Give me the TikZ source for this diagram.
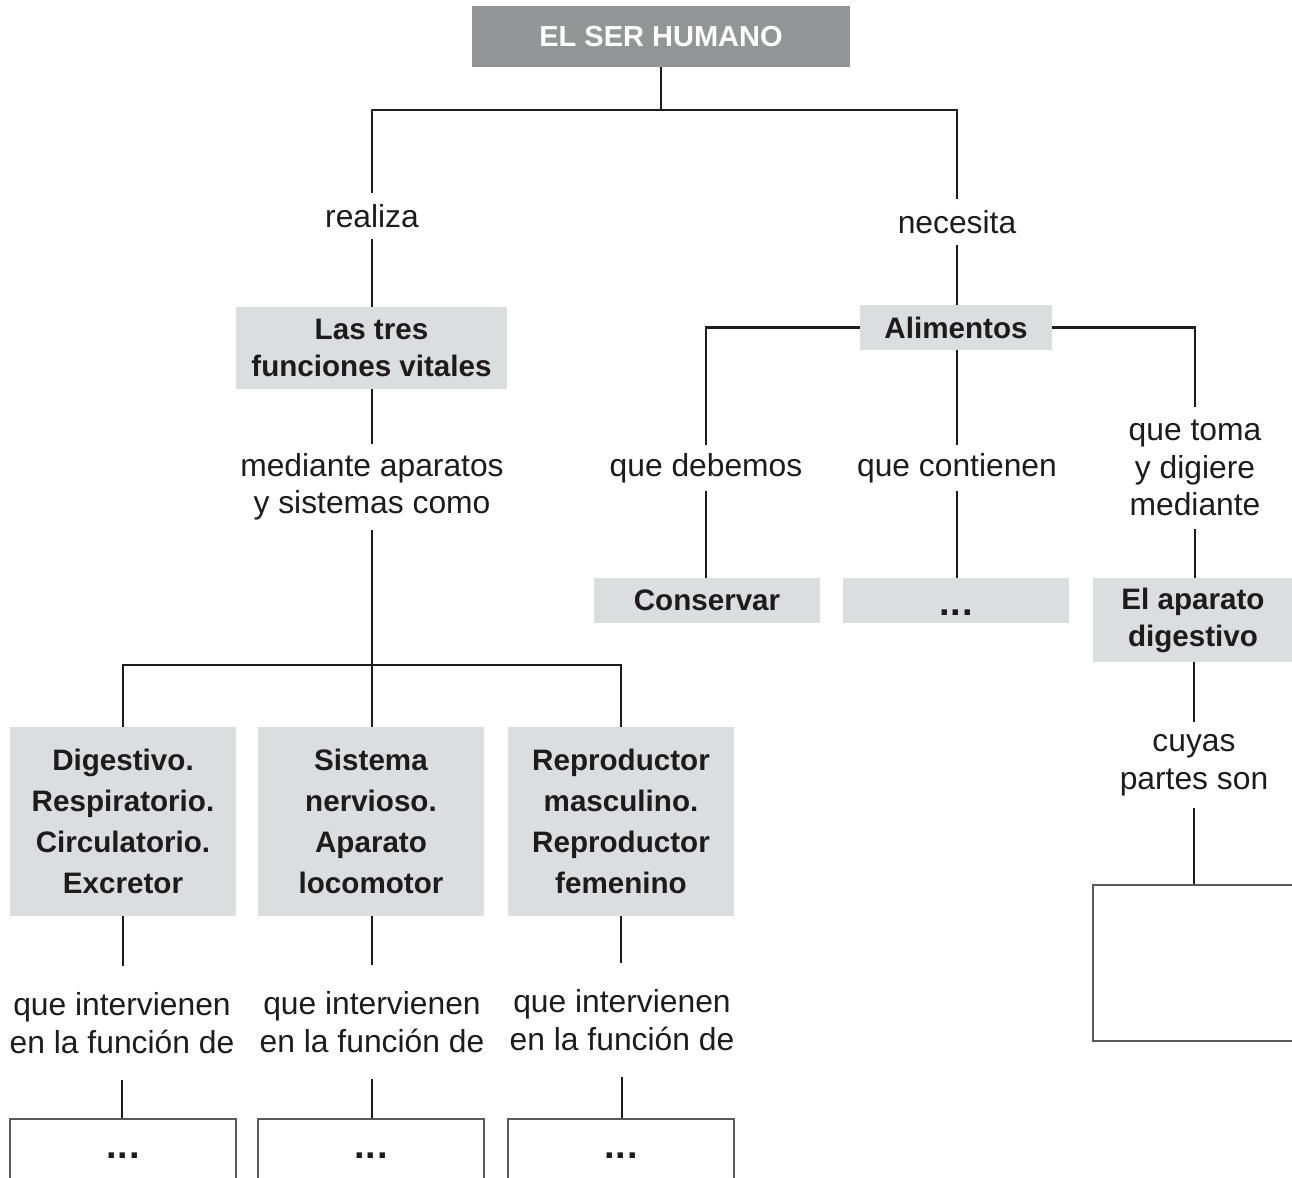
\documentclass[tikz,border=0pt]{standalone}
\usepackage{fontspec}
\setmainfont{Liberation Sans}
\definecolor{dark}{HTML}{1E1B1C}
\definecolor{topgray}{HTML}{939598}
\definecolor{lightgray}{HTML}{DCDDDE}
\definecolor{boxline}{HTML}{58595B}
\newcommand{\tripledots}{{\fontsize{38}{38}\selectfont .\kern1pt.\kern1pt.}}
\tikzset{
  conn/.style={draw=dark, line width=2.5pt},
  topbox/.style={fill=topgray, text=white, font=\bfseries\fontsize{29}{37}\selectfont,
    minimum width=378pt, minimum height=61pt, inner sep=0pt},
  graybox/.style={fill=lightgray, text=dark, font=\bfseries\fontsize{29.6}{37}\selectfont,
    align=center, inner sep=0pt},
  tallbox/.style={graybox, minimum width=226pt, minimum height=189pt,
    font=\bfseries\fontsize{29.6}{41}\selectfont},
  lbl/.style={text=dark, font=\fontsize{31.8}{37.5}\selectfont, align=center, inner sep=0pt},
  openbox/.style={draw=boxline, line width=1.5pt, fill=white, inner sep=0pt, anchor=north,
    font=\bfseries\fontsize{29.6}{37}\selectfont, text=dark},
  dotsbox/.style={openbox, minimum width=226pt, text height=40pt, text depth=120pt},
}
\begin{document}
\begin{tikzpicture}[x=1pt,y=-1pt]
\useasboundingbox (0,0) rectangle (1292,1177);
\clip (0,0) rectangle (1292,1177);

% top
\node[topbox] (top) at (661,36.5) {EL SER HUMANO};
\coordinate (j1) at (661,110);
\node[lbl, minimum height=46pt] (realiza) at (372,216) {realiza};
\node[lbl, minimum height=46pt] (necesita) at (957,222) {necesita};

% left branch
\node[graybox, minimum width=271pt, minimum height=82pt] (f3) at (371.5,348) {Las tres\\funciones vitales};
\node[lbl, minimum height=86pt] (med) at (372,487) {mediante aparatos\\y sistemas como};
\coordinate (j2) at (372,665);

\node[tallbox] (bx1) at (123,821.5) {Digestivo.\\Respiratorio.\\Circulatorio.\\Excretor};
\node[tallbox] (bx2) at (371,821.5) {Sistema\\nervioso.\\Aparato\\locomotor};
\node[tallbox] (bx3) at (621,821.5) {Reproductor\\masculino.\\Reproductor\\femenino};

\node[lbl, minimum height=114pt] (qi1) at (122,1023) {que intervienen\\en la función de};
\node[lbl, minimum height=114pt] (qi2) at (372,1022) {que intervienen\\en la función de};
\node[lbl, minimum height=114pt] (qi3) at (622,1020) {que intervienen\\en la función de};

\node[dotsbox] (ob1) at (123,1118) {\tripledots};
\node[dotsbox] (ob2) at (371,1118) {\tripledots};
\node[dotsbox] (ob3) at (621,1118) {\tripledots};

% right branch
\node[graybox, minimum width=192pt, minimum height=45pt] (alim) at (956,327.5) {Alimentos};
\node[lbl, minimum height=46pt] (qd) at (706,468) {que debemos};
\node[lbl, minimum height=46pt] (qc) at (957,468) {que contienen};
\node[lbl, minimum height=122pt] (qt) at (1195,468) {que toma\\y digiere\\mediante};

\node[graybox, minimum width=226pt, minimum height=45pt] (cons) at (707,600.5) {Conservar};
\node[graybox, minimum width=226pt, minimum height=45pt, text height=30pt, text depth=0pt] (dots1) at (956,600.5) {\tripledots};
\node[graybox, minimum width=200pt, minimum height=84pt] (apdig) at (1193,620) {El aparato\\digestivo};
\node[lbl, minimum height=86pt] (cp) at (1194,765) {cuyas\\partes son};
\node[openbox, minimum width=260pt, minimum height=156pt] (wb) at (1223,884) {};

% connectors
\draw[conn] (top.south) -- (j1);
\draw[conn] (realiza.north) |- (j1);
\draw[conn] (necesita.north) |- (j1);
\draw[conn] (realiza.south) -- (realiza.south |- f3.north);
\draw[conn] (realiza.south |- f3.south) -- (med.north);
\draw[conn] (med.south) -- (j2);
\draw[conn] (bx1.north) |- (j2) -| (bx3.north);
\draw[conn] (j2) -- (j2 |- bx2.north);
\draw[conn] (bx1.south) -- (bx1.south |- qi1.north);
\draw[conn] (qi2.north |- bx2.south) -- (qi2.north);
\draw[conn] (bx3.south) -- (bx3.south |- qi3.north);
\draw[conn] (qi1.south) -- (qi1.south |- ob1.north);
\draw[conn] (qi2.south) -- (qi2.south |- ob2.north);
\draw[conn] (qi3.south) -- (qi3.south |- ob3.north);

\draw[conn] (necesita.south) -- (necesita.south |- alim.north);
\draw[conn] (alim.west) -| (qd.north);
\draw[conn] (alim.east) -| (qt.north);
\draw[conn] (qc.north |- alim.south) -- (qc.north);
\draw[conn] (qd.south) -- (qd.south |- cons.north);
\draw[conn] (qc.south) -- (qc.south |- dots1.north);
\draw[conn] (qt.south) -- (qt.south |- apdig.north);
\draw[conn] (cp.north |- apdig.south) -- (cp.north);
\draw[conn] (cp.south) -- (cp.south |- wb.north);
\end{tikzpicture}
\end{document}
